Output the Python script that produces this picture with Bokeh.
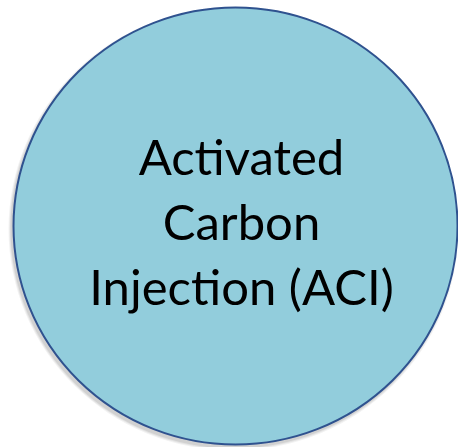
from bokeh.plotting import figure
from bokeh.embed import file_html
from bokeh.resources import INLINE
from bokeh.core.properties import value
from bokeh.models import ColumnDataSource

# content
labels = ["Activated", "Carbon", "Injection (ACI)"]

W, H = 458, 447
p = figure(width=W, height=H, x_range=(0, W), y_range=(0, H),
           output_backend="svg", toolbar_location=None, min_border=0)
p.axis.visible = False
p.grid.visible = False
p.outline_line_color = None
p.background_fill_color = "white"
p.border_fill_color = "white"

cx, cy = 235, 221.5
ew, eh = 444, 437

# soft shadow
for i, a in enumerate([0.05, 0.06, 0.08]):
    grow = 6 - 2 * i
    p.ellipse(x=cx - 2, y=cy - 3, width=ew + grow, height=eh + grow,
              fill_color="#000000", fill_alpha=a, line_color=None)

p.ellipse(x=cx, y=cy, width=ew, height=eh,
          fill_color="#92CDDC", line_color="#2F528F", line_width=2)

ys = [292 - 65 * i for i in range(len(labels))]
src = ColumnDataSource(dict(x=[241] * len(labels), y=ys, t=labels))
p.text(x="x", y="y", text="t", source=src, text_align="center",
       text_baseline="alphabetic", text_font=value("Lato"),
       text_font_size="49px", text_color="#000000")

open("out.html", "w").write(file_html(p, INLINE))
